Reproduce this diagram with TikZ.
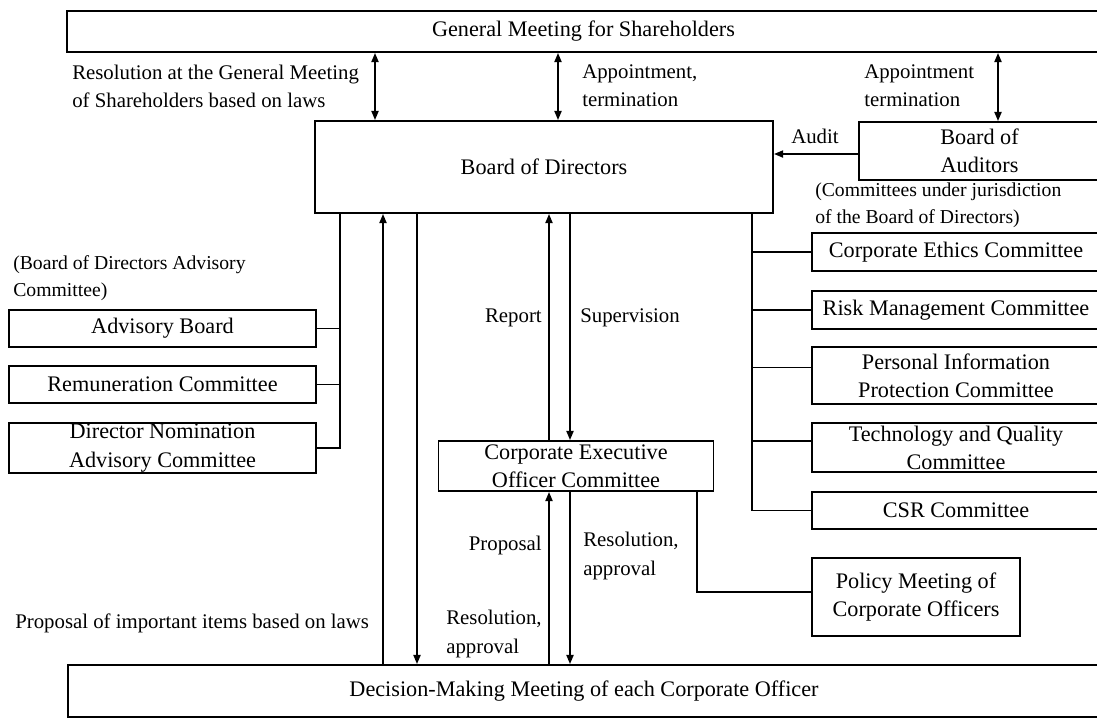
\documentclass[tikz,border=0pt]{standalone}
\usepackage{fontspec}
\setmainfont{Liberation Serif}
\usetikzlibrary{arrows.meta}

\tikzset{
  box/.style={draw, line width=1.3pt, inner sep=0pt, align=center,
    font=\fontsize{15.8}{20}\selectfont},
  lbl/.style={inner sep=0pt, align=left, font=\fontsize{14.8}{20}\selectfont},
  note/.style={inner sep=0pt, align=left, font=\fontsize{14}{19}\selectfont},
  link/.style={line width=1.3pt},
  flow/.style={line width=1.3pt, -{Triangle[length=6.5pt,width=5pt]}},
  both/.style={line width=1.3pt,
    {Triangle[length=6.5pt,width=5pt]}-{Triangle[length=6.5pt,width=5pt]}},
}

\begin{document}
\begin{tikzpicture}[x=0.025cm, y=-0.025cm]
  \useasboundingbox (0,0) rectangle (1097,719);

  %TOP
  \node[box, minimum width=25.825cm, minimum height=1.025cm] (gm) at (583.5,31.5)
    {General Meeting for Shareholders};
  \node[box, minimum width=11.45cm, minimum height=2.3cm] (bod) at (544,167)
    {Board of Directors};
  \node[box, minimum width=6.025cm, minimum height=1.45cm] (aud) at (979.5,151)
    {Board of\\Auditors};

  \node[lbl, anchor=west] (lawlbl) at (72,86)
    {Resolution at the General Meeting\\of Shareholders based on laws};
  \node[lbl, anchor=west] (apptlbl) at (582,86) {Appointment,\\termination};
  \node[lbl, anchor=west] (audapptlbl) at (864,86) {Appointment\\termination};
  \node[lbl] (auditlbl) at (815,136) {Audit};

  \coordinate (xlaw) at (375,0);
  \coordinate (xappt) at (558,0);
  \coordinate (xaud) at (998,0);
  \coordinate (yaudit) at (0,154);
  \draw[both] (gm.south -| xlaw) -- (bod.north -| xlaw);
  \draw[both] (gm.south -| xappt) -- (bod.north -| xappt);
  \draw[both] (gm.south -| xaud) -- (aud.north -| xaud);
  \draw[flow] (aud.west |- yaudit) -- (bod.east |- yaudit);

  %ADVISORY COMMITTEES
  \node[note, anchor=west] (advnote) at (13,278)
    {(Board of Directors Advisory\\Committee)};
  \node[box, minimum width=7.675cm, minimum height=0.925cm] (advisory) at (162.5,328.5)
    {Advisory Board};
  \node[box, minimum width=7.675cm, minimum height=0.925cm] (remun) at (162.5,384.5)
    {Remuneration Committee};
  \node[box, minimum width=7.675cm, minimum height=1.25cm] (nomin) at (162.5,448)
    {Director Nomination\\Advisory Committee};

  \coordinate (ltree) at (340,0);
  \draw[link] (bod.south -| ltree) |- (nomin.east);
  \draw[link] (advisory.east) -- (advisory.east -| ltree);
  \draw[link] (remun.east) -- (remun.east -| ltree);

  %COMMITTEES UNDER THE BOARD
  \node[note, anchor=west] (undernote) at (815,205)
    {(Committees under jurisdiction\\of the Board of Directors)};
  \node[box, minimum width=7.2cm, minimum height=0.95cm] (ethics) at (956,252)
    {Corporate Ethics Committee};
  \node[box, minimum width=7.2cm, minimum height=0.95cm] (risk) at (956,310)
    {Risk Management Committee};
  \node[box, minimum width=7.2cm, minimum height=1.425cm] (privacy) at (956,375.5)
    {Personal Information\\Protection Committee};
  \node[box, minimum width=7.2cm, minimum height=1.225cm] (techq) at (956,447.5)
    {Technology and Quality\\Committee};
  \node[box, minimum width=7.2cm, minimum height=0.925cm] (csr) at (956,510.5)
    {CSR Committee};

  \coordinate (rtree) at (752,0);
  \draw[link] (bod.south -| rtree) |- (csr.west);
  \draw[link] (ethics.west) -- (ethics.west -| rtree);
  \draw[link] (risk.west) -- (risk.west -| rtree);
  \draw[link] ([yshift=0.2cm]privacy.west) -- ([yshift=0.2cm]privacy.west -| rtree);
  \draw[link] ([yshift=0.16cm]techq.west) -- ([yshift=0.16cm]techq.west -| rtree);

  %EXECUTIVES
  \node[box, minimum width=6.875cm, minimum height=1.25cm] (ceoc) at (576,466)
    {Corporate Executive\\Officer Committee};
  \node[box, minimum width=5.2cm, minimum height=1.95cm] (policy) at (916,597)
    {Policy Meeting of\\Corporate Officers};
  \node[box, minimum width=25.8cm, minimum height=1.3cm] (dmm) at (584,691)
    {Decision-Making Meeting of each Corporate Officer};

  \node[lbl, anchor=east] (replbl) at (542,318) {Report};
  \node[lbl, anchor=west] (suplbl) at (580,318) {Supervision};
  \node[lbl, anchor=east] (proplbl) at (542,545) {Proposal};
  \node[lbl, anchor=west] (reslbl) at (583,556) {Resolution,\\approval};
  \node[lbl, anchor=west] (reslbl2) at (446,634) {Resolution,\\approval};
  \node[lbl, anchor=west] (lawprop) at (15,623) {Proposal of important items based on laws};

  \coordinate (xup) at (383,0);
  \coordinate (xdown) at (417,0);
  \coordinate (xrep) at (549,0);
  \coordinate (xsup) at (570,0);
  \coordinate (xpol) at (697,0);
  \draw[flow] (dmm.north -| xup) -- (bod.south -| xup);
  \draw[flow] (bod.south -| xdown) -- (dmm.north -| xdown);
  \draw[flow] (ceoc.north -| xrep) -- (bod.south -| xrep);
  \draw[flow] (bod.south -| xsup) -- (ceoc.north -| xsup);
  \draw[flow] (dmm.north -| xrep) -- (ceoc.south -| xrep);
  \draw[flow] (ceoc.south -| xsup) -- (dmm.north -| xsup);
  \draw[link] (ceoc.south -| xpol) |- ([yshift=0.125cm]policy.west);
\end{tikzpicture}
\end{document}
